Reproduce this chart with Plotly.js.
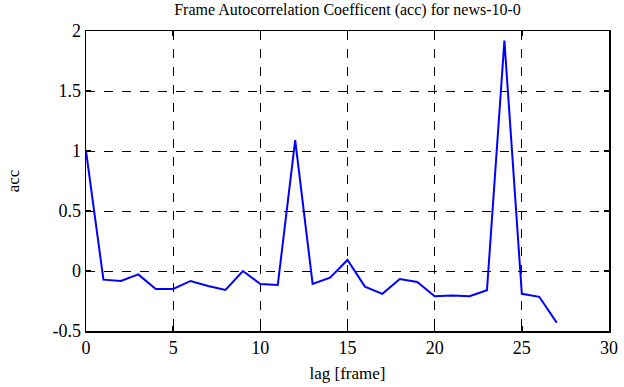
<!DOCTYPE html>
<html>
<head>
<meta charset="utf-8">
<script src="https://cdn.plot.ly/plotly-3.0.1.min.js"></script>
<style>html,body{margin:0;padding:0;background:#fff;}#chart{width:624px;height:387px;}</style>
</head>
<body>
<div id="chart"></div>
<script>
const lags = [0,1,2,3,4,5,6,7,8,9,10,11,12,13,14,15,16,17,18,19,20,21,22,23,24,25,26,27];
const acc = [1.0,-0.072,-0.083,-0.028,-0.15,-0.15,-0.083,-0.125,-0.158,0.0,-0.108,-0.117,1.09,-0.108,-0.056,0.092,-0.13,-0.19,-0.067,-0.092,-0.21,-0.205,-0.21,-0.16,1.92,-0.19,-0.215,-0.43];
const xTickVals = [0,5,10,15,20,25,30];
const xTickText = ["0","5","10","15","20","25","30"];
const yTickVals = [-0.5,0,0.5,1,1.5,2];
const yTickText = ["-0.5","0","0.5","1","1.5","2"];

const fam = "Liberation Serif";
const axisCommon = {
  showline: true, linecolor: "#000", linewidth: 1.5, mirror: "ticks",
  ticks: "inside", ticklen: 5, tickwidth: 1.5, tickcolor: "#000",
  showgrid: true, gridcolor: "#000", gridwidth: 1, griddash: "dash",
  zeroline: false, tickmode: "array",
  tickfont: {family: fam, size: 18, color: "#000"}
};
Plotly.newPlot("chart", [{
  x: lags, y: acc, type: "scatter", mode: "lines",
  line: {color: "rgb(0,0,255)", width: 2}
}], {
  width: 624, height: 387,
  font: {family: fam, color: "#000", size: 17},
  margin: {l: 86, r: 14.5, t: 31, b: 56},
  paper_bgcolor: "#fff", plot_bgcolor: "#fff",
  showlegend: false,
  title: {text: "Frame Autocorrelation Coefficent (acc) for news-10-0", font: {family: fam, size: 16, color: "#000"}, x: 0.5, xanchor: "center", y: 0.975, yanchor: "middle", xref: "paper"},
  xaxis: Object.assign({}, axisCommon, {range: [0, 30], tickvals: xTickVals, ticktext: xTickText,
    title: {text: "lag [frame]", font: {family: fam, size: 17, color: "#000"}, standoff: 10}}),
  yaxis: Object.assign({}, axisCommon, {range: [-0.5, 2], tickvals: yTickVals, ticktext: yTickText,
    title: {text: "acc", font: {family: fam, size: 17, color: "#000"}, standoff: 28}})
}, {displayModeBar: false, staticPlot: true});
</script>
</body>
</html>
